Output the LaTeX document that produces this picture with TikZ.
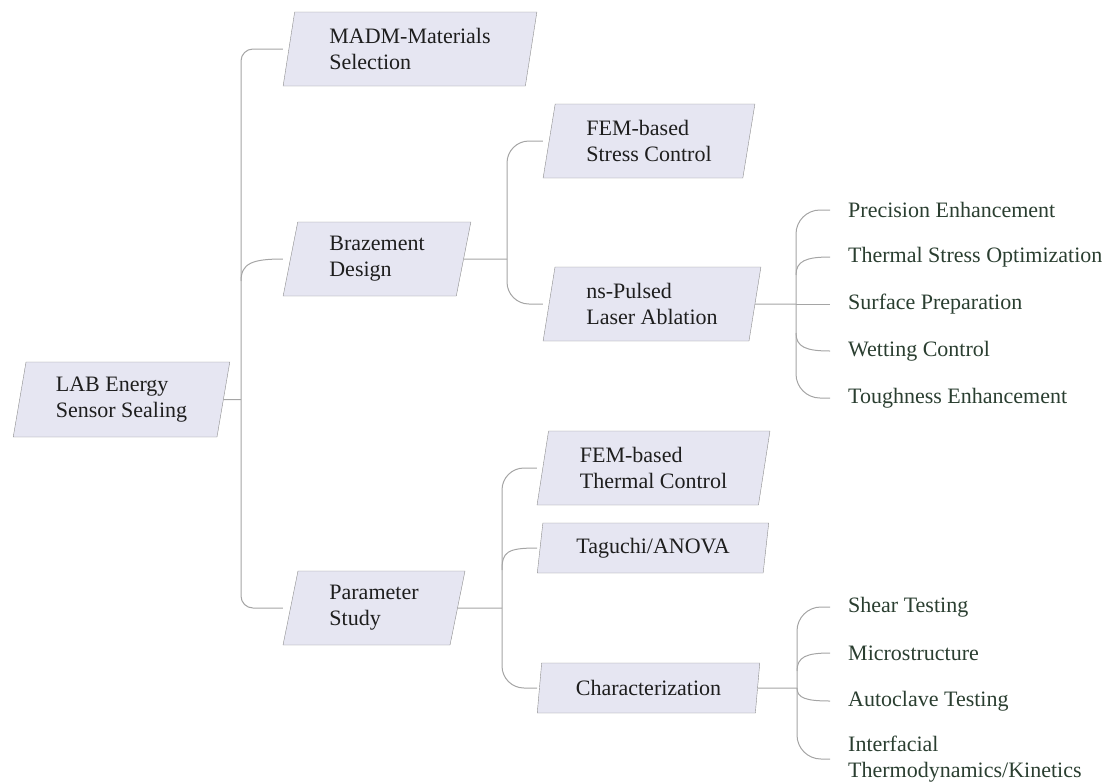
\documentclass[tikz,border=0pt]{standalone}
\usepackage{fontspec}
\setmainfont{Liberation Serif}
\usetikzlibrary{shapes.geometric, calc}

\definecolor{boxfill}{RGB}{230,230,242}
\definecolor{boxedge}{RGB}{140,140,140}
\definecolor{linkgray}{RGB}{165,165,165}
\definecolor{leafgreen}{RGB}{42,62,48}
\definecolor{boxtext}{RGB}{30,30,30}

\begin{document}
\begin{tikzpicture}[x=1pt, y=-1pt,
    topic/.style={trapezium, trapezium left angle=79, trapezium right angle=101,
        trapezium stretches=true, draw=boxedge, fill=boxfill, text=boxtext,
        align=left, inner sep=0pt, minimum height=74pt,
        font=\fontsize{22}{26}\selectfont},
    leaf/.style={anchor=west, inner xsep=18pt, inner ysep=0pt, align=left,
        text=leafgreen, font=\fontsize{22}{26}\selectfont},
    link/.style={draw=linkgray, line width=1pt}]
    \useasboundingbox (0,0) rectangle (1110,782);

    % Root and first level
    \node[topic, minimum width=217pt, minimum height=75pt] (lab) at (121.5,399.5) {LAB Energy\\Sensor Sealing};
    \node[topic, minimum width=254pt] (madm) at (410,49) {MADM-Materials\\Selection};
    \node[topic, minimum width=188pt] (braz) at (377,259) {Brazement\\Design};
    \node[topic, minimum width=182pt] (param) at (374,608) {Parameter\\Study};

    % Second level
    \node[topic, minimum width=212pt] (fems) at (649,141) {FEM-based\\Stress Control};
    \node[topic, minimum width=218pt] (nslas) at (652,304) {ns-Pulsed\\Laser Ablation};
    \node[topic, minimum width=233pt] (femt) at (653.5,468) {FEM-based\\Thermal Control};
    \node[topic, minimum width=232pt, minimum height=50pt] (tagu) at (653,548) {Taguchi/ANOVA};
    \node[topic, minimum width=223pt, minimum height=50pt] (charz) at (648.5,688) {Characterization};

    % Leaves
    \node[leaf] (prec) at (830,210) {Precision Enhancement};
    \node[leaf] (tso) at (830,257) {Thermal Stress Optimization};
    \node[leaf] (surf) at (830,304) {Surface Preparation};
    \node[leaf] (wett) at (830,351) {Wetting Control};
    \node[leaf] (tough) at (830,398) {Toughness Enhancement};
    \node[leaf] (shear) at (830,607) {Shear Testing};
    \node[leaf] (micro) at (830,653) {Microstructure};
    \node[leaf] (auto) at (830,701) {Autoclave Testing};
    \node[leaf] (inter) at (830,759) {Interfacial\\Thermodynamics/Kinetics};

    % Junctions
    \coordinate (jroot) at (241,399.5);
    \coordinate (jbraz) at (507,259);
    \coordinate (jparam) at (502,608);
    \coordinate (jlaser) at (796,304);
    \coordinate (jchar) at (797,688);

    % Root branch
    \draw[link] (lab.east) -- (jroot);
    \draw[link, rounded corners=12pt] (madm.bottom left corner |- madm.west) -| (jroot) |- (param.bottom left corner |- param.west);
    \draw[link] (braz.bottom left corner |- braz.west) .. controls ($(braz.bottom left corner |- braz.west)+(-30,0)$) and ($(jroot |- braz.west)+(0,4)$) .. ($(jroot |- braz.west)+(0,22)$);

    % Brazement branch
    \draw[link] (braz.east) -- (jbraz);
    \draw[link, rounded corners=22pt] (fems.bottom left corner |- fems.west) -| (jbraz) |- (nslas.bottom left corner |- nslas.west);

    % Parameter branch
    \draw[link] (param.east) -- (jparam);
    \draw[link, rounded corners=22pt] (femt.bottom left corner |- femt.west) -| (jparam) |- (charz.bottom left corner |- charz.west);
    \draw[link] (tagu.bottom left corner |- tagu.west) .. controls ($(tagu.bottom left corner |- tagu.west)+(-30,0)$) and ($(jparam |- tagu.west)+(0,4)$) .. ($(jparam |- tagu.west)+(0,22)$);

    % Laser ablation leaves
    \draw[link] (nslas.east) -- (jlaser);
    \draw[link, rounded corners=24pt] (prec.west) -| (jlaser) |- (tough.west);
    \draw[link] (surf.west) -- (jlaser);
    \draw[link] (tso.west) .. controls ($(tso.west)+(-24,0)$) and ($(jlaser |- tso.west)+(0,4)$) .. ($(jlaser |- tso.west)+(0,18)$);
    \draw[link] (wett.west) .. controls ($(wett.west)+(-24,0)$) and ($(jlaser |- wett.west)+(0,-4)$) .. ($(jlaser |- wett.west)+(0,-18)$);

    % Characterization leaves
    \draw[link] (charz.east) -- (jchar);
    \draw[link, rounded corners=24pt] (shear.west) -| (jchar) |- (inter.west);
    \draw[link] (micro.west) .. controls ($(micro.west)+(-24,0)$) and ($(jchar |- micro.west)+(0,4)$) .. ($(jchar |- micro.west)+(0,18)$);
    \draw[link] (auto.west) .. controls ($(auto.west)+(-24,0)$) and ($(jchar |- auto.west)+(0,-3)$) .. ($(jchar |- auto.west)+(0,-13)$);
\end{tikzpicture}
\end{document}
